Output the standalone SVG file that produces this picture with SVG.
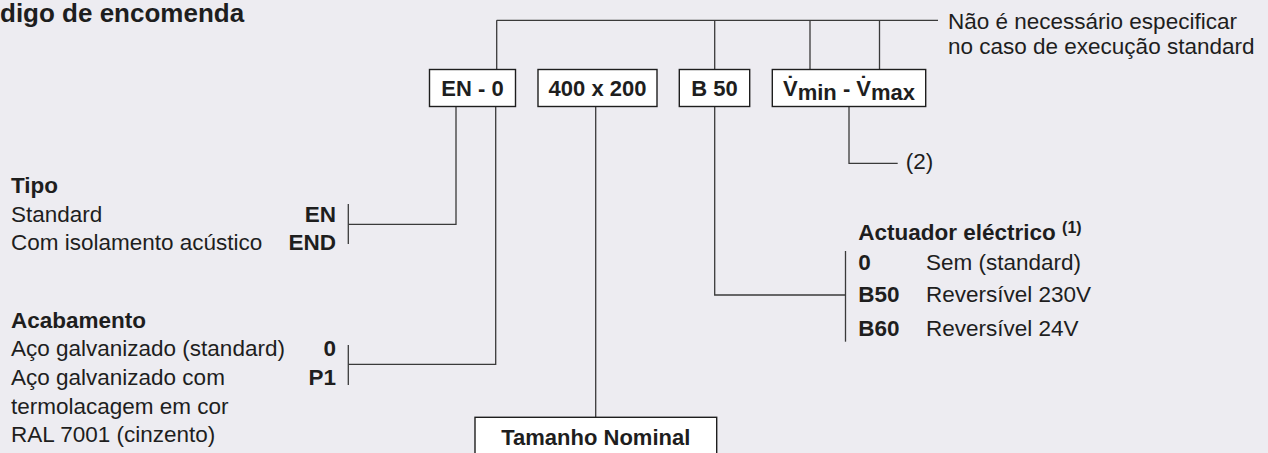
<svg xmlns="http://www.w3.org/2000/svg" width="1268" height="453" viewBox="0 0 1268 453">
<style>
  .bg{fill:#edecf1}
  .t{font-family:"Liberation Sans",Arial,sans-serif;font-size:22.5px;fill:#1e1e1e}
  .b{font-weight:bold}
  .bx{font-size:22px}
  .box{fill:#ffffff;stroke:#1e1e1e;stroke-width:1.4}
  .ln{fill:none;stroke:#3a3a3a;stroke-width:1.3}
</style>
<rect class="bg" x="0" y="0" width="1268" height="453"/>
<text class="t b" x="0" y="22" style="font-size:26px">digo de encomenda</text>

<g id="connectors">
  <path class="ln" d="M496.7,20.3 H938"/>
  <path class="ln" d="M496.7,20.3 V69.5"/>
  <path class="ln" d="M714.7,20.3 V69.5"/>
  <path class="ln" d="M810,20.3 V69.5"/>
  <path class="ln" d="M879.5,20.3 V69.5"/>
  <path class="ln" d="M456,106.5 V224.3 H348.3"/>
  <path class="ln" d="M348.3,204 V244"/>
  <path class="ln" d="M495.7,106.5 V364.3 H348.3"/>
  <path class="ln" d="M348.3,345 V385"/>
  <path class="ln" d="M595.7,106.5 V417.3"/>
  <path class="ln" d="M714.7,106.5 V295 H845.5"/>
  <path class="ln" d="M845.5,251 V341.7"/>
  <path class="ln" d="M849,106.5 V163.3 H897.7"/>
</g>

<g id="note-standard">
  <text class="t" x="948" y="28.5">Não é necessário especificar</text>
  <text class="t" x="948" y="53.5">no caso de execução standard</text>
</g>

<g id="box-en0">
  <rect class="box" x="429.5" y="69.5" width="86" height="37"/>
  <text class="t b bx" x="472.5" y="95.5" text-anchor="middle">EN - 0</text>
</g>
<g id="box-size">
  <rect class="box" x="538" y="69.5" width="119" height="37"/>
  <text class="t b bx" x="597.5" y="95.5" text-anchor="middle">400 x 200</text>
</g>
<g id="box-b50">
  <rect class="box" x="679.3" y="69.5" width="70.4" height="37"/>
  <text class="t b bx" x="714.5" y="95.5" text-anchor="middle">B 50</text>
</g>
<g id="box-vflow">
  <rect class="box" x="772.3" y="69.5" width="153.4" height="37"/>
  <text class="t b bx" x="849" y="95.5" text-anchor="middle">V̇<tspan dy="4">min</tspan><tspan dy="-4"> - V̇</tspan><tspan dy="4">max</tspan></text>
</g>
<g id="note-2">
  <text class="t" x="905.7" y="168.5">(2)</text>
</g>

<g id="tipo">
  <text class="t b" x="11" y="192.7">Tipo</text>
  <text class="t" x="11" y="221.7">Standard</text>
  <text class="t" x="11" y="250.3">Com isolamento acústico</text>
  <text class="t b" x="336" y="221.7" text-anchor="end">EN</text>
  <text class="t b" x="336" y="250.3" text-anchor="end">END</text>
</g>

<g id="acabamento">
  <text class="t b" x="11" y="327.5">Acabamento</text>
  <text class="t" x="11" y="356.3">Aço galvanizado (standard)</text>
  <text class="t" x="11" y="385">Aço galvanizado com</text>
  <text class="t" x="11" y="413.5">termolacagem em cor</text>
  <text class="t" x="11" y="442">RAL 7001 (cinzento)</text>
  <text class="t b" x="336" y="356.3" text-anchor="end">0</text>
  <text class="t b" x="336" y="385" text-anchor="end">P1</text>
</g>

<g id="box-tamanho">
  <rect class="box" x="475" y="417.3" width="241.7" height="45"/>
  <text class="t b bx" x="595.8" y="445" text-anchor="middle">Tamanho Nominal</text>
</g>

<g id="actuador">
  <text class="t b" x="858.3" y="240">Actuador eléctrico <tspan style="font-size:16px" dy="-7">(1)</tspan></text>
  <text class="t b" x="858.3" y="270">0</text>
  <text class="t" x="926" y="270">Sem (standard)</text>
  <text class="t b" x="858.3" y="302.3">B50</text>
  <text class="t" x="926" y="302.3">Reversível 230V</text>
  <text class="t b" x="858.3" y="335.5">B60</text>
  <text class="t" x="926" y="335.5">Reversível 24V</text>
</g>
</svg>
